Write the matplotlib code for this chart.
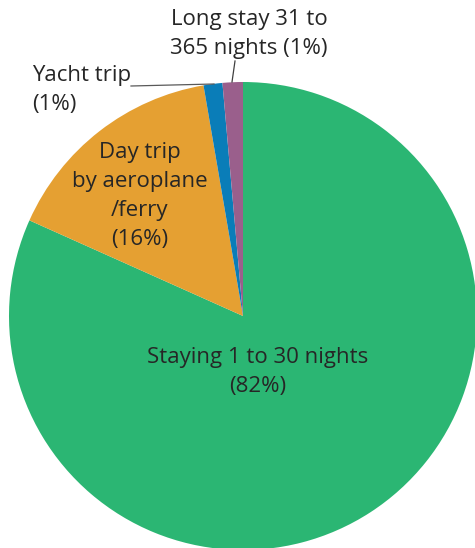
import matplotlib.pyplot as plt

plt.rcParams['font.family'] = ['Open Sans', 'DejaVu Sans']
plt.rcParams['text.color'] = '#262626'

# Trip types, share of trips (%)
categories = ['Staying 1 to 30 nights', 'Day trip by aeroplane /ferry', 'Yacht trip', 'Long stay 31 to 365 nights']
shares = [81.7, 15.6, 1.3, 1.4]
pct_labels = ['82%', '16%', '1%', '1%']
colors = ['#2BB673', '#E5A032', '#0A7DB8', '#9A5F8C']

fig = plt.figure(figsize=(4.75, 5.48), dpi=100)
ax = fig.add_axes([0, 0, 1, 1])

cx, cy, r = 243, 232, 234
wedges, _ = ax.pie(shares, colors=colors, startangle=90, counterclock=False,
                   center=(cx, cy), radius=r, frame=True,
                   wedgeprops=dict(linewidth=0))
ax.set_xlim(0, 475)
ax.set_ylim(0, 548)
ax.axis('off')

fs = 16
ls = 1.52
ax.text(258, 176, 'Staying 1 to 30 nights\n(%s)' % pct_labels[0], ha='center', va='center',
        fontsize=fs, linespacing=ls)
ax.text(140, 352, 'Day trip\nby aeroplane\n/ferry\n(%s)' % pct_labels[1], ha='center', va='center',
        fontsize=fs, linespacing=ls)
ax.text(32, 458, 'Yacht trip\n(%s)' % pct_labels[2], ha='left', va='center',
        fontsize=fs, linespacing=ls)
ax.text(249, 514, 'Long stay 31 to\n365 nights (%s)' % pct_labels[3], ha='center', va='center',
        fontsize=fs, linespacing=ls)

# leader lines
ax.plot([131, 214], [462, 464], color='#595959', linewidth=0.9)
ax.plot([235, 232], [487, 466], color='#404040', linewidth=0.9)

fig.savefig('out.png', dpi=100)
